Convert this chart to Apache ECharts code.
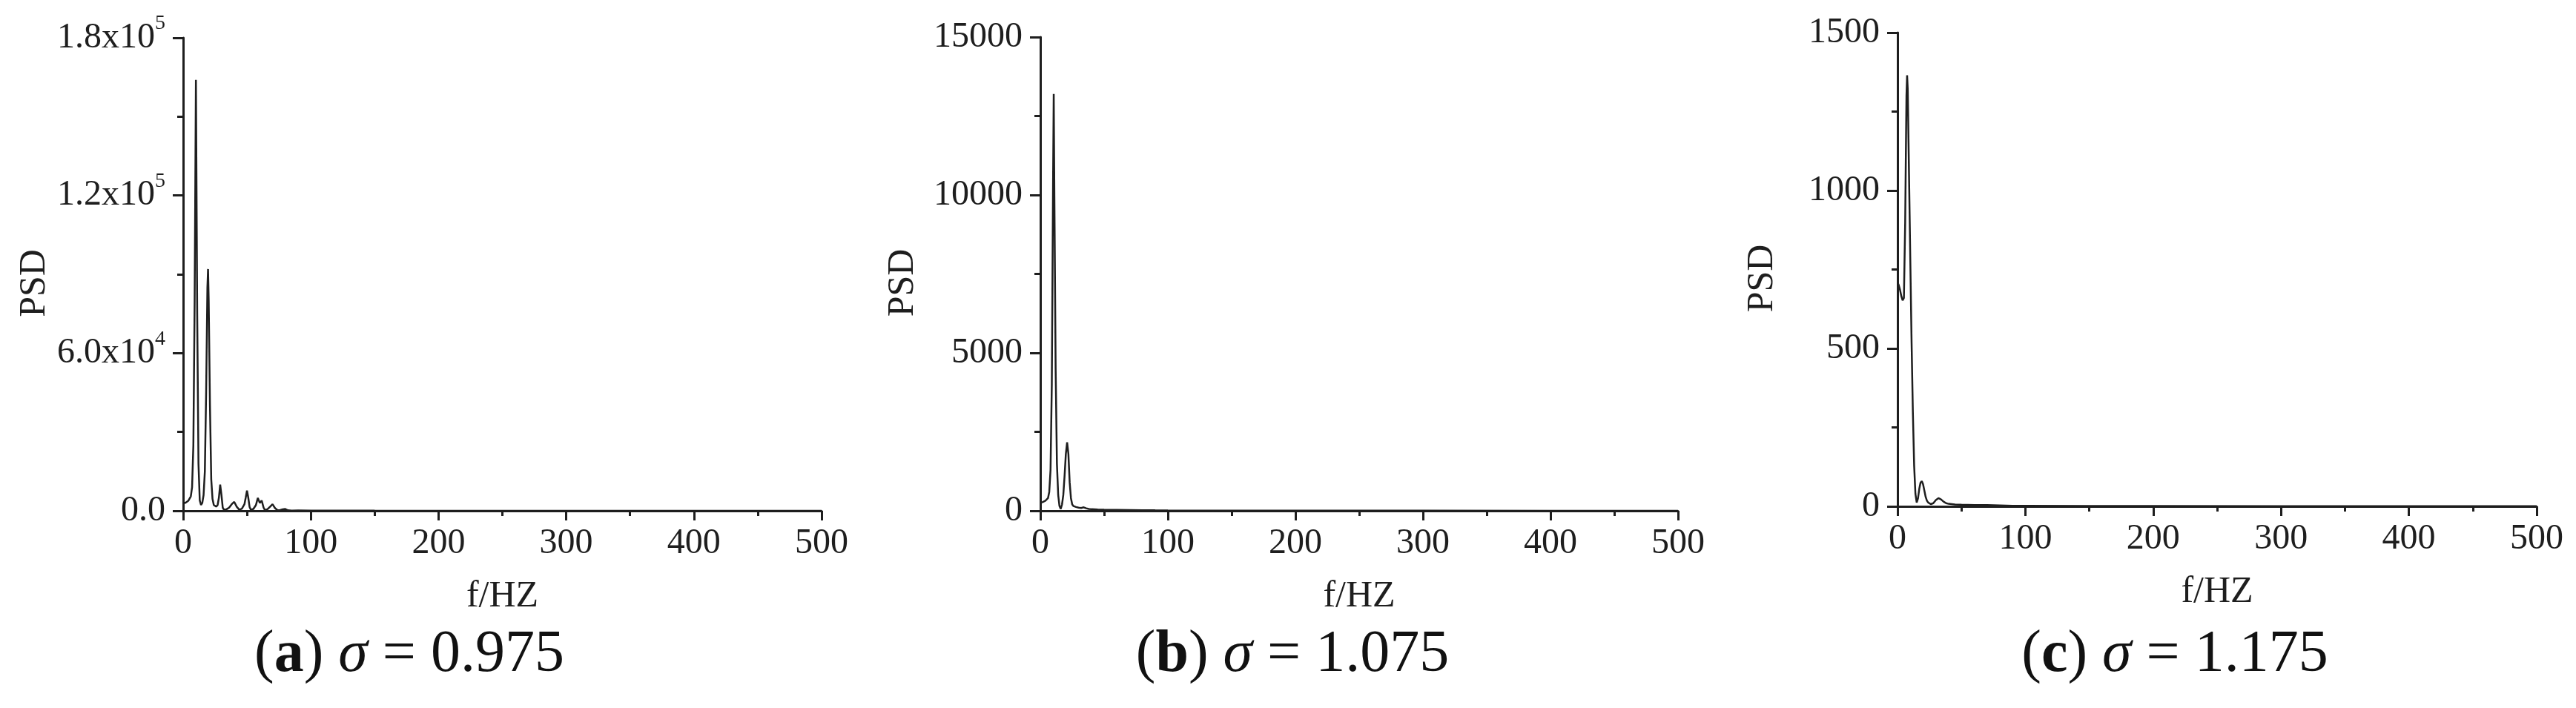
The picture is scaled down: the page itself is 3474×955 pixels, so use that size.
<!DOCTYPE html>
<html>
<head>
<meta charset="utf-8">
<script src="https://cdn.jsdelivr.net/npm/echarts@6/dist/echarts.min.js"></script>
<style>
html,body{margin:0;padding:0;background:#fff;}
#c{width:3474px;height:955px;}
</style>
</head>
<body>
<div id="c"></div>
<script>
// ---------- data ----------
const freqA = [0,2,4,6,7,8,9,10,11,12,13,14,15,16,17,18,19,19.5,20,21,22,23,24,25,26,27,28,29,30,31,32,34,36,38,40,42,44,46,48,49,50,51,52,53,55,57,58.5,60,61.5,63,64,66,68,70,72,74,76,78,80,82,85,90,100,120,150,200,300,400,500];
const psdA  = [2800,3100,3800,5500,9000,25000,80000,164000,75000,18000,4000,2200,3000,6000,15000,45000,85000,92000,80000,40000,12000,4500,2200,1700,1600,2200,5000,10000,6000,1200,400,600,1200,2500,3400,1500,400,800,2500,5000,7700,5000,1500,400,700,2200,4900,3000,3900,1200,300,600,1500,2500,1000,200,300,600,700,200,100,150,80,50,40,30,20,15,10];

const freqB = [0,2,4,6,7,8,9,10,10.5,11,12,13,14,15,16,17,18,19,20,21,22,23,24,25,26,28,30,32,34,36,38,40,45,50,60,70,80,90,100,150,200,300,400,500];
const psdB  = [250,280,320,400,600,1300,4000,10500,13200,10000,4500,1500,500,150,60,200,500,1100,1800,2170,1800,900,400,200,150,120,100,90,110,80,60,50,40,35,30,25,20,15,12,8,5,3,2,1];

const freqC = [0,1,2,3,4,5,6,7,7.5,8,9,10,11,12,13,14,15,16,17,18,19,20,21,22,23,24,26,28,30,32,34,36,38,40,45,50,60,70,80,90,100,150,200,300,400,500];
const psdC  = [710,700,685,665,652,660,900,1300,1365,1320,1050,780,520,300,130,40,12,25,55,75,80,70,50,30,18,12,7,10,20,26,22,15,10,8,6,5,4,4,3,2,2,1,1,0.5,0.5,0.5];

const xTicks = [0,100,200,300,400,500];
const yTicksA = [0,60000,120000,180000];
const yMantA  = ['0.0','6.0','1.2','1.8'];
const yExpA   = ['', '4', '5', '5'];
const yTicksB = [0,5000,10000,15000];
const yTicksC = [0,500,1000,1500];

const captionLetters = ['a','b','c'];
const captionSigma = ['0.975','1.075','1.175'];

// ---------- styling ----------
const FONT = 'Liberation Serif';
const INK = '#1e1e1e';

const grids = [
  {left:247, right:3474-1108, top:51, bottom:955-689},
  {left:1403, right:3474-2263, top:50, bottom:955-689},
  {left:2559, right:3474-3421, top:44, bottom:955-683}
];
const psdGap = [175, 160, 157];

function xAxisFor(i){
  return {
    type:'value', gridIndex:i, min:xTicks[0], max:xTicks[xTicks.length-1],
    interval:xTicks[1]-xTicks[0],
    axisLine:{show:true,onZero:false,lineStyle:{color:INK,width:3}},
    axisTick:{show:true,inside:false,length:13,lineStyle:{color:INK,width:3}},
    minorTick:{show:true,splitNumber:2,length:7,lineStyle:{color:INK,width:3}},
    splitLine:{show:false}, minorSplitLine:{show:false},
    axisLabel:{fontFamily:FONT,fontSize:48,color:INK,margin:20},
    name:'f/HZ', nameLocation:'middle', nameGap:91,
    nameTextStyle:{fontFamily:FONT,fontSize:50,color:INK}
  };
}
function yAxisFor(i, ticks, formatter){
  return {
    type:'value', gridIndex:i, min:ticks[0], max:ticks[ticks.length-1],
    interval:ticks[1]-ticks[0],
    axisLine:{show:true,onZero:false,lineStyle:{color:INK,width:3}},
    axisTick:{show:true,inside:false,length:14,lineStyle:{color:INK,width:3}},
    minorTick:{show:true,splitNumber:2,length:8,lineStyle:{color:INK,width:3}},
    splitLine:{show:false}, minorSplitLine:{show:false},
    axisLabel:{fontFamily:FONT,fontSize:48,color:INK,margin:24,formatter:formatter,
      rich:{
        m:{fontFamily:FONT,fontSize:48,color:INK},
        e:{fontFamily:FONT,fontSize:28,color:INK,padding:[0,0,38,0]}
      }},
    name:'PSD', nameLocation:'middle', nameGap:psdGap[i], nameRotate:90,
    nameTextStyle:{fontFamily:FONT,fontSize:50,color:INK,padding:[0,24,0,0]}
  };
}

function fmtA(v){
  const k = yTicksA.indexOf(v);
  if (k < 0) return '';
  if (!yExpA[k]) return '{m|' + yMantA[k] + '}';
  return '{m|' + yMantA[k] + 'x10}{e|' + yExpA[k] + '}';
}
function fmtPlain(v){ return String(v); }

function pairs(f, p){ return f.map((x,i)=>[x, p[i]]); }

function lineSeries(i, data){
  return {type:'line', xAxisIndex:i, yAxisIndex:i, data:data, symbol:'none',
    showSymbol:false, lineStyle:{color:INK,width:2.5}, z:3, animation:false};
}

const captionX = [552, 1743, 2933];
const captions = captionLetters.map((l,i)=>({
  type:'text', x:captionX[i], y:884, z:10,
  style:{
    text:'{n|(}{b|'+l+'}{n|) }{i|σ}{n| = '+captionSigma[i]+'}',
    align:'center', verticalAlign:'middle',
    rich:{
      n:{fontFamily:FONT,fontSize:80,fill:'#111'},
      b:{fontFamily:FONT,fontSize:80,fontWeight:'bold',fill:'#111'},
      i:{fontFamily:FONT,fontSize:80,fontStyle:'italic',fill:'#111'}
    }
  }
}));

const chart = echarts.init(document.getElementById('c'), null, {renderer:'canvas'});
chart.setOption({
  animation:false,
  backgroundColor:'#fff',
  grid:grids,
  xAxis:[xAxisFor(0),xAxisFor(1),xAxisFor(2)],
  yAxis:[yAxisFor(0,yTicksA,fmtA), yAxisFor(1,yTicksB,fmtPlain), yAxisFor(2,yTicksC,fmtPlain)],
  series:[lineSeries(0,pairs(freqA,psdA)), lineSeries(1,pairs(freqB,psdB)), lineSeries(2,pairs(freqC,psdC))],
  graphic:captions
});
</script>
</body>
</html>
